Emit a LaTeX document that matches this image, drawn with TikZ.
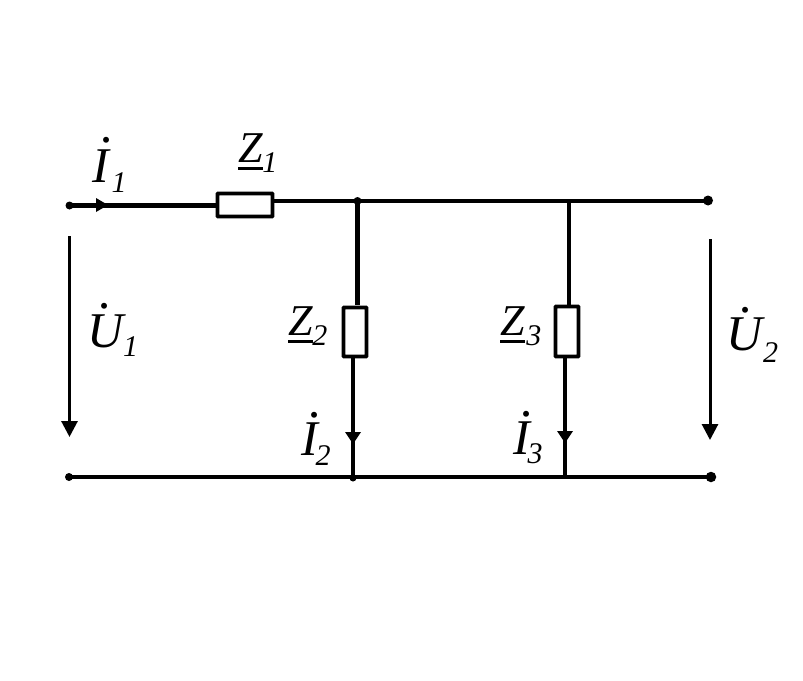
\documentclass[tikz,border=0pt]{standalone}
\usepackage{fontspec}
\setmainfont{Liberation Serif}
\usetikzlibrary{arrows.meta}
\newcommand{\bigsz}{\fontsize{50}{54}\selectfont\itshape}
\newcommand{\midsz}{\fontsize{44}{48}\selectfont\itshape}
\newcommand{\subsz}{\fontsize{30}{32}\selectfont\itshape}
% dotted letter: letter, dot kern, dot raise
\newcommand{\dlet}[3]{\rlap{\kern#2pt\raisebox{#3pt}{.}}#1}
% letter, subscript, kern, drop
\newcommand{\labb}[4]{{\bigsz #1}\kern#3pt\raisebox{-#4pt}{\subsz #2}}
\newcommand{\labz}[3]{{\midsz\rlap{\raisebox{-8pt}{\rule{25pt}{2.8pt}}}Z}\kern#2pt\raisebox{-#3pt}{\subsz #1}}
\tikzset{
  x=1pt,y=-1pt,
  wire/.style={line width=4.6pt},
  vwire/.style={line width=4.8pt},
  volt/.style={line width=3pt,-{Triangle[length=16pt,width=16pt]}},
  imp/.style={draw,line width=3.6pt,fill=white,inner sep=0pt,rounded corners=0.5pt},
  dot/.style={circle,fill=black,inner sep=0pt},
  txt/.style={anchor=base west,inner sep=0pt,outer sep=0pt,text=black}
}
\begin{document}
\begin{tikzpicture}
\useasboundingbox (0,0) rectangle (803,680);
\fill[white] (0,0) rectangle (803,680);
% terminals and junctions
\node[dot,minimum size=8pt] (t1) at (69.5,205.5) {};
\node[dot,minimum size=8pt] (j1) at (357.5,201) {};
\node[dot,minimum size=10pt] (t2) at (708,200.5) {};
\node[dot,minimum size=8pt] (b1) at (69,477) {};
\node[dot,minimum size=7pt] (j2) at (353,478) {};
\node[dot,minimum size=10.5pt] (b2) at (711,477) {};
% junction points
\coordinate (r1a) at (216,205.5);
\coordinate (r1b) at (274,201);
\coordinate (r2a) at (357.5,305);
\coordinate (r2b) at (353,358);
\coordinate (j3) at (569,201);
\coordinate (r3a) at (569,305);
\coordinate (r3b) at (565,358);
\coordinate (j4) at (565,477);
\coordinate (t2w) at (708,201);
% wires
\draw[wire] (t1.center) -- (r1a);
\draw[wire] (r1b) -- (j1.center);
\draw[wire] (j1.center) -- (t2w);
\draw[wire] (b1.center) -- (b2.center);
\draw[vwire] (j1.center) -- (r2a);
\draw[vwire] (r2b) -- (j2.center);
\draw[vwire] (j3) -- (r3a);
\draw[vwire] (r3b) -- (j4);
% impedances
\node[imp,minimum width=55pt,minimum height=23pt] (R1) at (245,205) {};
\node[imp,minimum width=23pt,minimum height=49pt] (R2) at (355,332) {};
\node[imp,minimum width=23pt,minimum height=50pt] (R3) at (567,331.5) {};
% voltage arrows
\coordinate (u1a) at (69.5,236);
\coordinate (u1b) at (69.5,437);
\coordinate (u2a) at (710,239);
\coordinate (u2b) at (710,440);
\draw[volt] (u1a) -- (u1b);
\draw[volt] (u2a) -- (u2b);
% current arrowheads
\fill (96,198) -- (108,205) -- (96,212) -- cycle;
\fill (345,432) -- (361,432) -- (353,444) -- cycle;
\fill (557,431) -- (573,431) -- (565,443) -- cycle;
% labels
\node[txt] (li1) at (92,182) {\labb{\dlet{I}{9}{40}}{1}{3}{10}};
\node[txt] (lu1) at (87,347) {\labb{\dlet{U}{12}{39}}{1}{0}{9}};
\node[txt] (lu2) at (726,350) {\labb{\dlet{U}{14}{38}}{2}{1}{12}};
\node[txt] (li2) at (301,455) {\labb{\dlet{I}{8}{38}}{2}{-2}{10}};
\node[txt] (li3) at (513,454) {\labb{\dlet{I}{8}{38}}{3}{-2}{9}};
\node[txt] (lz1) at (238,162) {\labz{1}{0}{10}};
\node[txt] (lz2) at (288,335) {\labz{2}{0}{10}};
\node[txt] (lz3) at (500,335) {\labz{3}{2}{10}};
\end{tikzpicture}
\end{document}
